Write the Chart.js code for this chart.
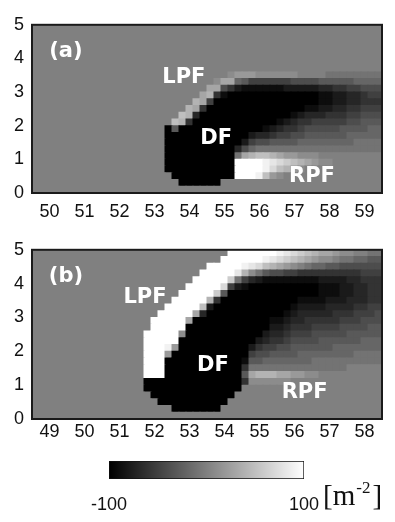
<!DOCTYPE html>
<html>
<head>
<meta charset="utf-8">
<script src="https://cdn.jsdelivr.net/npm/chart.js@4.4.1/dist/chart.umd.min.js"></script>
<style>
  html, body { margin: 0; padding: 0; background: #fff; }
  #wrap { position: relative; width: 395px; height: 522px; overflow: hidden; }
  canvas { position: absolute; left: 0; }
</style>
</head>
<body>
<div id="wrap">
  <canvas id="panelA" width="395" height="225" style="top:0px"></canvas>
  <canvas id="panelB" width="395" height="222" style="top:225px"></canvas>
  <canvas id="cbar" width="395" height="75" style="top:447px"></canvas>
</div>
<script>
// grey levels: a = -100 (black), k = 0 (mid grey), u = +100 (white), step 10
const LEVELS = 'abcdefghijklmnopqrstu';

const xTicksA = [50, 51, 52, 53, 54, 55, 56, 57, 58, 59];
const xTicksB = [49, 50, 51, 52, 53, 54, 55, 56, 57, 58];
const yTicks = [0, 1, 2, 3, 4, 5];
const barTicks = [-100, 100];

const xRangeA = [49.5, 59.5];
const xRangeB = [48.5, 58.5];
const yRange = [0, 5];
const cell = 0.2;
const firstCol = 15; // columns left of this are 0 in both fields

// rows listed top (y 4.8-5.0) to bottom (y 0-0.2), columns 15..49 in groups of 5
const fieldA = [
  'kkkkk kkkkk kkkkk kkkkk kkkkk kkkkk kkkkk',
  'kkkkk kkkkk kkkkk kkkkk kkkkk kkkkk kkkkk',
  'kkkkk kkkkk kkkkk kkkkk kkkkk kkkkk kkkkk',
  'kkkkk kkkkk kkkkk kkkkk kkkkk kkkkk kkkkk',
  'kkkkk kkkkk kkkkk kkkkk kkkkk kkkkk kkkkk',
  'kkkkk kkkkk kkkkk kkkkk kkkkk kkkkk kkkkk',
  'kkkkk kkkkk kkkkk kkkkk kkkkk kkkkk kkkkk',
  'kkkkk kkkkk kkklm mmlll lllkk kkjjj jjjjj',
  'kkkkk kkkkk klnni hffff ffggg ghhhh hiiii',
  'kkkkk kkkkk nngec bbbbb bcccc cddee ffggg',
  'kkkkk kkkkn oebaa aaaaa aaaaa abbcc ddeff',
  'kkkkk kkkon faaaa aaaaa aaaaa abbcc ddeee',
  'kkkkk kkone aaaaa aaaaa aaaab bccdd eefff',
  'kkkkk kpoda aaaaa aaaaa aabcd ddeee ffggg',
  'kkkkk poeaa aaaaa aaaaa bcdee fffff gghhh',
  'kkkka haaaa aaaaa aaabc deefg ggggh hhhii',
  'kkkka aaaaa aaaaa acdde ffggh hhhhh iiiii',
  'kkkka aaaaa aaaaa cfggh hhhii iiiii ijjjj',
  'kkkka aaaaa aaaad gijjj jjjjj jjjjj jjjjj',
  'kkkka aaaaa aaaaj noppo nmmll lkkkk kkkkk',
  'kkkka aaaaa aaaau uuuts rqpon mllkk kkkkk',
  'kkkka aaaaa aaaau uuutr pomlk kkkkk kkkkk',
  'kkkkk aaaaa aaaau uutpm lkkkk kkkkk kkkkk',
  'kkkkk kaaaa aakkk kkkkk kkkkk kkkkk kkkkk',
  'kkkkk kkkkk kkkkk kkkkk kkkkk kkkkk kkkkk'
];

const fieldB = [
  'kkkkk kkkkk kkkuu uuuuu tsrqp onnml lkkjj',
  'kkkkk kkkkk kkuuu uuuts rqpon mllkj jiihh',
  'kkkkk kkkkk uuuuu tsrpo nmlkj iihhg ggggg',
  'kkkkk kkkku uuuus oljhg gffee eeeee eefff',
  'kkkkk kkkuu uuuqj fdcbb bbbbb bcccc ddeee',
  'kkkkk kkuuu uurfc baaaa aaaaa abbbc cddee',
  'kkkkk kuuuu uqhaa aaaaa aaaaa abbbc cddee',
  'kkkkk uuuuu oeaaa aaaaa aaabb bbccc dddee',
  'kkkku uuuup caaaa aaaaa aabcc ccddd deeff',
  'kkkuu uuund aaaaa aaaaa abcdd dddee efffg',
  'kkuuu uunaa aaaaa aaaab bcdde eeeef ffggg',
  'kkuuu uuaaa aaaaa aaaac cdeee ffffg ggghh',
  'kuuuu ulaaa aaaaa aaacd defff ggggg hhhhh',
  'kuuuu uaaaa aaaaa aacde efggg ghhhh hhiii',
  'kuuut maaaa aaaaa aceff gghhh hhhii iiiii',
  'kuuum aaaaa aaaaa afggh hhhii iiiii ijjjj',
  'kuuua aaaaa aaaaa bhhii iiiii jjjjj jjjjj',
  'kuuua aaaaa aaaaa ejjjj jjjjj jjjjj kkkkk',
  'kuuua aaaaa aaaaa hnooo nnmml lkkkk kkkkk',
  'kaaaa aaaaa aaaaa ellll llkkk kkkkk kkkkk',
  'kaaaa aaaaa aaaaa kkkkk kkkkk kkkkk kkkkk',
  'kkaaa aaaaa aaaak kkkkk kkkkk kkkkk kkkkk',
  'kkkaa aaaaa aaakk kkkkk kkkkk kkkkk kkkkk',
  'kkkkk aaaaa aakkk kkkkk kkkkk kkkkk kkkkk',
  'kkkkk kkkkk kkkkk kkkkk kkkkk kkkkk kkkkk'
];

const notesA = [
  { text: '(a)', x: 50.47, y: 4.2 },
  { text: 'LPF', x: 53.84, y: 3.43 },
  { text: 'DF', x: 54.76, y: 1.63 },
  { text: 'RPF', x: 57.5, y: 0.5 }
];
const notesB = [
  { text: '(b)', x: 49.47, y: 4.21 },
  { text: 'LPF', x: 51.73, y: 3.59 },
  { text: 'DF', x: 53.67, y: 1.57 },
  { text: 'RPF', x: 56.29, y: 0.77 }
];

const tickFont = { family: '"Liberation Sans", Arial, sans-serif', size: 18 };

function toValue(ch) {
  const i = LEVELS.indexOf(ch);
  return i < 0 ? 0 : (i - 10) * 10;
}

function grey(v) {
  const g = Math.round(127.5 + v * 1.275);
  return 'rgb(' + g + ',' + g + ',' + g + ')';
}

// one stacked bar dataset per grid row, bottom row first
function heatDatasets(field, xRange) {
  const nCols = Math.round((xRange[1] - xRange[0]) / cell);
  const nRows = field.length;
  const sets = [];
  for (let j = 0; j < nRows; j++) {
    const row = field[nRows - 1 - j].replace(/ /g, '');
    const data = [];
    const colors = [];
    for (let c = 0; c < nCols; c++) {
      data.push({ x: xRange[0] + cell * (c + 0.5), y: cell });
      colors.push(grey(c < firstCol ? 0 : toValue(row[c - firstCol])));
    }
    sets.push({
      data: data,
      backgroundColor: colors,
      borderWidth: 0,
      inflateAmount: 0.5,
      barPercentage: 1,
      categoryPercentage: 1
    });
  }
  return sets;
}

const frame = {
  id: 'frame',
  afterDraw(chart) {
    const { ctx, chartArea: a } = chart;
    ctx.save();
    ctx.strokeStyle = '#1a1a1a';
    ctx.lineWidth = 2;
    ctx.strokeRect(a.left, a.top, a.right - a.left, a.bottom - a.top);
    ctx.restore();
  }
};

const notes = {
  id: 'notes',
  afterDatasetsDraw(chart, args, opts) {
    const { ctx, scales } = chart;
    ctx.save();
    ctx.fillStyle = '#fff';
    ctx.font = 'bold 21px "DejaVu Sans", sans-serif';
    ctx.textAlign = 'center';
    ctx.textBaseline = 'middle';
    (opts.items || []).forEach(n => {
      ctx.fillText(n.text, scales.x.getPixelForValue(n.x), scales.y.getPixelForValue(n.y));
    });
    ctx.restore();
  }
};

function heatChart(id, field, xRange, xTicks, noteList, padTop, axisH, labelPad) {
  return new Chart(document.getElementById(id), {
    type: 'bar',
    data: { datasets: heatDatasets(field, xRange) },
    options: {
      responsive: false,
      animation: false,
      events: [],
      layout: { padding: { top: padTop, right: 13, left: 0, bottom: 0 } },
      plugins: {
        legend: { display: false },
        tooltip: { enabled: false },
        notes: { items: noteList }
      },
      scales: {
        x: {
          type: 'linear',
          min: xRange[0],
          max: xRange[1],
          stacked: true,
          offset: false,
          z: 1,
          afterBuildTicks: s => { s.ticks = xTicks.map(v => ({ value: v })); },
          afterFit: s => { s.height = axisH; },
          grid: { drawOnChartArea: false, offset: false, tickLength: -6, color: '#1a1a1a' },
          border: { display: false },
          ticks: { autoSkip: false, maxRotation: 0, padding: labelPad, color: '#111', font: tickFont, callback: v => String(v) }
        },
        y: {
          type: 'linear',
          min: yRange[0],
          max: yRange[1],
          stacked: true,
          z: 1,
          afterBuildTicks: s => { s.ticks = yTicks.map(v => ({ value: v })); },
          afterFit: s => { s.width = 32; },
          grid: { drawOnChartArea: false, tickLength: -6, color: '#1a1a1a' },
          border: { display: false },
          ticks: { padding: 14, color: '#111', font: tickFont, callback: v => String(v) }
        }
      }
    },
    plugins: [frame, notes]
  });
}

heatChart('panelA', fieldA, xRangeA, xTicksA, notesA, 18, 32, 14);
heatChart('panelB', fieldB, xRangeB, xTicksB, notesB, 19, 28, 8);

const unitLabel = {
  id: 'unitLabel',
  afterDraw(chart) {
    const { ctx, chartArea: a } = chart;
    const base = a.bottom + 26;
    let x = a.right + 19;
    ctx.save();
    ctx.fillStyle = '#111';
    ctx.textAlign = 'left';
    ctx.textBaseline = 'alphabetic';
    ctx.font = '29px "Liberation Serif", serif';
    ctx.fillText('[m', x, base);
    x += ctx.measureText('[m').width + 1;
    ctx.font = '17px "Liberation Serif", serif';
    ctx.fillText('-2', x, base - 12);
    x += ctx.measureText('-2').width + 2;
    ctx.font = '29px "Liberation Serif", serif';
    ctx.fillText(']', x, base);
    ctx.restore();
  }
};

new Chart(document.getElementById('cbar'), {
  type: 'bar',
  data: {
    labels: [''],
    datasets: [{
      data: [[barTicks[0], barTicks[1]]],
      backgroundColor: c => {
        const a = c.chart.chartArea;
        if (!a) return '#808080';
        const g = c.chart.ctx.createLinearGradient(a.left, 0, a.right, 0);
        g.addColorStop(0, '#000');
        g.addColorStop(1, '#fff');
        return g;
      },
      borderColor: '#111',
      borderWidth: 1,
      borderSkipped: false,
      barPercentage: 1,
      categoryPercentage: 1
    }]
  },
  options: {
    indexAxis: 'y',
    responsive: false,
    animation: false,
    events: [],
    layout: { padding: { top: 14, left: 109, right: 91, bottom: 0 } },
    plugins: { legend: { display: false }, tooltip: { enabled: false } },
    scales: {
      x: {
        type: 'linear',
        min: barTicks[0],
        max: barTicks[1],
        afterBuildTicks: s => { s.ticks = barTicks.map(v => ({ value: v })); },
        afterFit: s => { s.height = 43; },
        grid: { display: false },
        border: { display: false },
        ticks: { padding: 7, color: '#111', font: tickFont, callback: v => String(v) }
      },
      y: { display: false }
    }
  },
  plugins: [unitLabel]
});
</script>
</body>
</html>
